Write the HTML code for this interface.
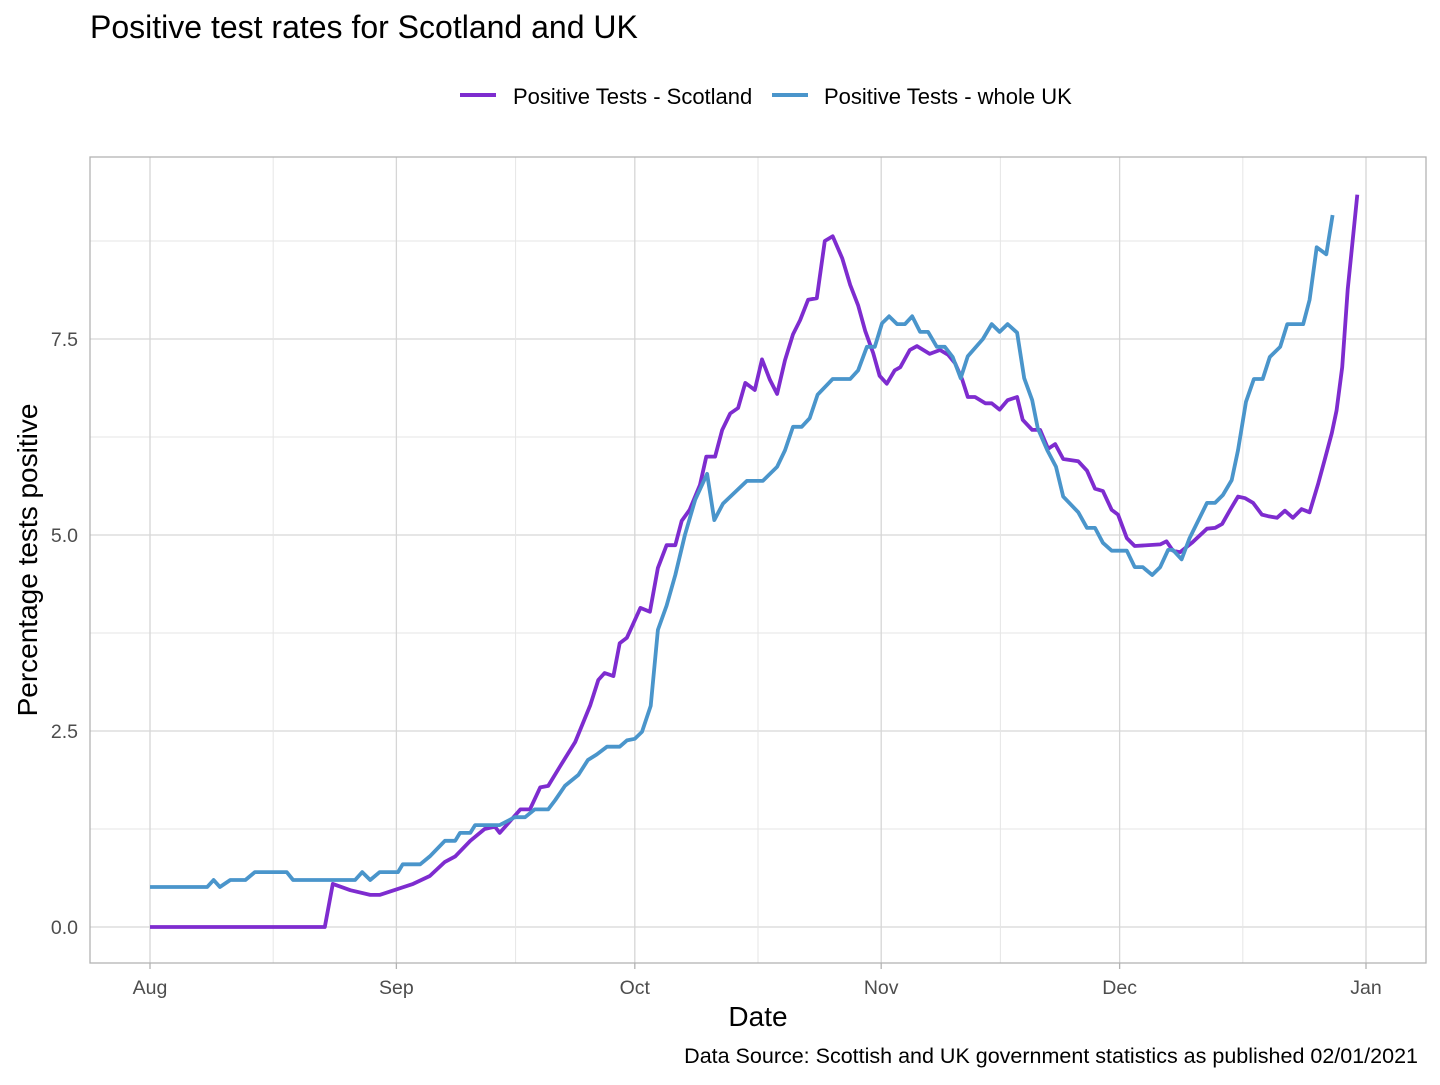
<!DOCTYPE html>
<html><head><meta charset="utf-8"><style>
body{margin:0;background:#fff;font-family:"Liberation Sans",sans-serif;}
svg text{font-family:"Liberation Sans",sans-serif;}
</style></head><body>
<svg id="chart" width="1440" height="1080" xmlns="http://www.w3.org/2000/svg">
<text x="90" y="38" font-size="32" fill="#000">Positive test rates for Scotland and UK</text>
<g>
<line x1="460" y1="95" x2="496" y2="95" stroke="#7e2ccf" stroke-width="4"/>
<text x="513" y="104" font-size="22" fill="#000">Positive Tests - Scotland</text>
<line x1="772" y1="95" x2="808" y2="95" stroke="#4a95cb" stroke-width="4"/>
<text x="824" y="104" font-size="22" fill="#000">Positive Tests - whole UK</text>
</g>
<g id="grid"></g>
<g id="series"></g>
<rect x="90" y="157" width="1336" height="806" fill="none" stroke="#b3b3b3" stroke-width="1.3"/>
<g id="axes"></g>
<text x="758" y="1026" font-size="28" text-anchor="middle" fill="#000">Date</text>
<text transform="translate(37,560) rotate(-90)" font-size="28" text-anchor="middle" fill="#000">Percentage tests positive</text>
<text x="1418" y="1063" font-size="21.5" text-anchor="end" fill="#000">Data Source: Scottish and UK government statistics as published 02/01/2021</text>
</svg>
<script>
const xTickDays=[0,31,61,92,122,153];
const xTickLabels=["Aug","Sep","Oct","Nov","Dec","Jan"];
const yTicks=[0,2.5,5,7.5];
const yTickLabels=["0.0","2.5","5.0","7.5"];
const scotDays=[0,22,23,25.2,27.7,28.9,31,33.1,35.2,37.1,38.4,40.3,42.1,43.4,44,46.6,47.8,49.1,50.1,51.6,53.5,55.4,56.4,57.2,58.3,59.1,60,61.7,62.9,63.9,65,66.1,66.9,67.9,69.2,70,71.1,72,73,74,74.9,76.1,77,78,78.9,79.9,80.9,81.8,82.8,83.9,84.9,85.9,87.1,88.1,89.1,90,91,91.8,92.7,93.7,94.4,95.6,96.5,98.1,99.4,100.4,101.3,102.2,102.9,103.8,105.1,105.9,106.9,107.9,109.1,109.8,111,112,113,113.9,114.9,116.8,117.9,118.9,119.9,121,121.8,122.9,123.9,127.1,127.9,128.7,129.6,131.1,133,134,134.9,135.9,136.9,137.8,138.8,139.9,140.7,141.8,142.8,143.8,144.9,145.9,147,147.8,148.7,149.3,150,150.7,151.9];
const scotValues=[0,0,0.55,0.47,0.41,0.41,0.48,0.55,0.65,0.83,0.9,1.1,1.25,1.28,1.2,1.5,1.5,1.78,1.8,2.05,2.36,2.83,3.15,3.24,3.2,3.62,3.69,4.07,4.02,4.58,4.87,4.87,5.18,5.32,5.64,6.0,6.0,6.34,6.55,6.62,6.94,6.85,7.24,6.98,6.8,7.23,7.56,7.74,8.0,8.02,8.75,8.81,8.53,8.19,7.93,7.6,7.32,7.03,6.93,7.1,7.14,7.36,7.41,7.31,7.36,7.3,7.19,6.98,6.76,6.76,6.68,6.68,6.6,6.72,6.76,6.47,6.34,6.34,6.1,6.16,5.97,5.94,5.82,5.59,5.56,5.32,5.26,4.96,4.86,4.88,4.92,4.8,4.78,4.9,5.08,5.09,5.14,5.32,5.49,5.47,5.41,5.26,5.24,5.22,5.31,5.22,5.33,5.29,5.66,5.96,6.3,6.59,7.14,8.13,9.34];
const ukDays=[0,7.2,8,8.8,10.1,12,13.2,17.2,18,25.8,26.7,27.7,28.9,31.2,31.8,34,35.2,37.1,38.4,39,40.3,40.9,44,45.9,47.2,48.4,50.1,51,52.2,53.9,55.1,56.2,57.5,59.1,60,61,61.9,63,63.9,65,66.1,67.3,68.6,70.1,71,72.1,75.1,77.1,78.9,79.9,80.9,82,83,84,85.9,88.1,89.1,90.2,91.2,92.1,93,94,95,95.9,96.9,97.9,99,100,101,102,102.9,104.8,105.9,106.9,107.9,109.1,110,111,111.7,112.9,114,114.9,116.8,117.9,118.9,119.9,121,122.9,123.9,124.9,126.1,127.1,128.1,128.7,129.8,130.8,133,134,135,136.1,136.9,137.9,138.9,140,140.9,142.2,143.1,145.1,145.9,146.8,148,148.8];
const ukValues=[0.51,0.51,0.6,0.51,0.6,0.6,0.7,0.7,0.6,0.6,0.7,0.6,0.7,0.7,0.8,0.8,0.9,1.1,1.1,1.2,1.2,1.3,1.3,1.4,1.4,1.5,1.5,1.62,1.8,1.94,2.13,2.2,2.3,2.3,2.38,2.4,2.49,2.82,3.79,4.1,4.49,5.0,5.45,5.78,5.19,5.4,5.69,5.69,5.87,6.08,6.38,6.38,6.49,6.79,6.99,6.99,7.1,7.4,7.4,7.7,7.79,7.69,7.69,7.79,7.59,7.59,7.4,7.4,7.27,7.0,7.28,7.5,7.69,7.59,7.69,7.58,7.0,6.72,6.36,6.08,5.87,5.49,5.29,5.09,5.09,4.9,4.8,4.8,4.59,4.59,4.49,4.59,4.81,4.81,4.69,4.96,5.41,5.41,5.51,5.7,6.08,6.7,6.99,6.99,7.27,7.4,7.69,7.69,8.0,8.67,8.58,9.08];

const X0=150,PXD=1216/153,Y0=927,PXU=78.4;
const xs=d=>X0+d*PXD, ys=v=>Y0-v*PXU;
const NS="http://www.w3.org/2000/svg";
function mk(tag,attrs,parent){const e=document.createElementNS(NS,tag);for(const k in attrs)e.setAttribute(k,attrs[k]);parent.appendChild(e);return e;}
const grid=document.getElementById('grid'),axes=document.getElementById('axes'),series=document.getElementById('series');
for(let i=0;i<yTicks.length;i++){
  const mv=yTicks[i]+1.25;
  const m=mk('line',{x1:90,x2:1426,y1:ys(mv),y2:ys(mv),stroke:'#e6e6e6','stroke-width':1},grid);
  
  
  const g=mk('line',{x1:90,x2:1426,y1:ys(yTicks[i]),y2:ys(yTicks[i]),stroke:'#d6d6d6','stroke-width':1.3},grid);
  
  
  const t=mk('text',{x:78,y:ys(yTicks[i])+7,'font-size':19.5,'text-anchor':'end',fill:'#4d4d4d'},axes);
  t.textContent=yTickLabels[i];
  
  
}
for(let i=0;i<xTickDays.length;i++){
  const x=xs(xTickDays[i]);
  if(i<xTickDays.length-1){
    const mx=xs((xTickDays[i]+xTickDays[i+1])/2);
    const m=mk('line',{x1:mx,x2:mx,y1:157,y2:963,stroke:'#e6e6e6','stroke-width':1},grid);
    
    
  }
  const g=mk('line',{x1:x,x2:x,y1:157,y2:963,stroke:'#d6d6d6','stroke-width':1.3},grid);
  
  
  const tk=mk('line',{x1:x,x2:x,y1:963,y2:969,stroke:'#b3b3b3','stroke-width':1.3},axes);
  
  
  const t=mk('text',{x:x,y:994,'font-size':19.5,'text-anchor':'middle',fill:'#4d4d4d'},axes);
  t.textContent=xTickLabels[i];
  
  
}
function pathOf(ds,vs){return ds.map((d,i)=>(i?'L':'M')+xs(d).toFixed(1)+','+ys(vs[i]).toFixed(1)).join(' ');}
const pS=mk('path',{d:pathOf(scotDays,scotValues),fill:'none',stroke:'#7e2ccf','stroke-width':3.8,'stroke-linejoin':'round'},series);


const pU=mk('path',{d:pathOf(ukDays,ukValues),fill:'none',stroke:'#4a95cb','stroke-width':3.8,'stroke-linejoin':'round'},series);


</script>
</body></html>
